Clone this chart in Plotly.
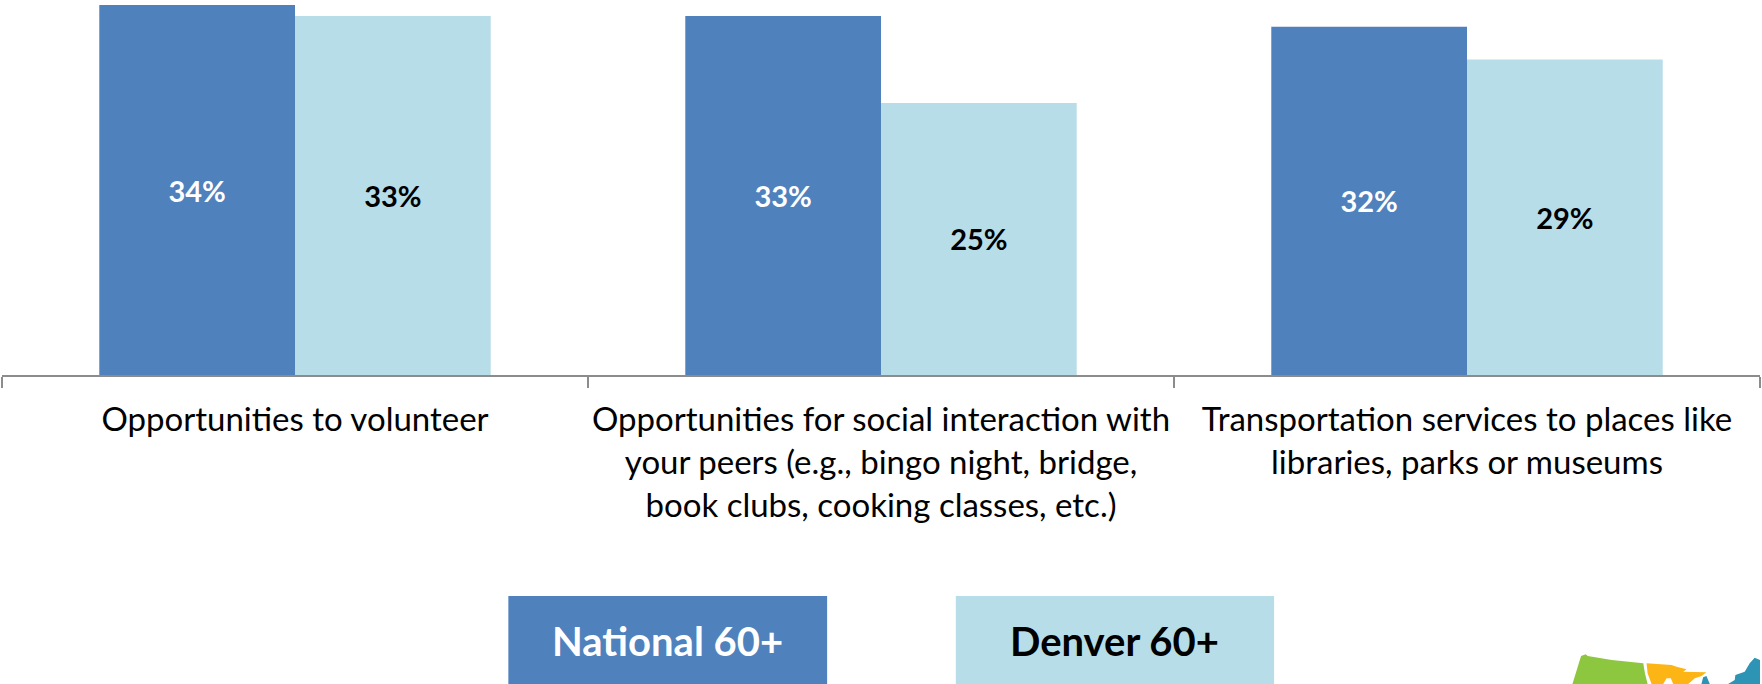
import plotly.graph_objects as go

categories = [
    "Opportunities to volunteer",
    "Opportunities for social interaction with<br>your peers (e.g., bingo night, bridge,<br>book clubs, cooking classes, etc.)",
    "Transportation services to places like<br>libraries, parks or museums",
]
national = [34, 33, 32]
denver = [33, 25, 29]
FONT = "Lato"
W, H, PLOT_H = 1762, 684, 375


def px(x):
    return x / W


def py(y):
    return (PLOT_H - y) / PLOT_H


def poly(points, color):
    path = "M " + " L ".join(f"{px(1500 + a / 3):.5f},{py(600 + b / 3):.5f}" for a, b in points) + " Z"
    return dict(type="path", xref="paper", yref="paper", path=path, fillcolor=color, line_width=0, layer="above")


fig = go.Figure()
fig.add_bar(name="National 60+", x=categories, y=national, marker_color="#4F81BD", marker_line_width=0,
            text=[f"{v}%" for v in national], textposition="inside", insidetextanchor="middle",
            textangle=0, textfont=dict(family=FONT, size=29, color="white", weight=700))
fig.add_bar(name="Denver 60+", x=categories, y=denver, marker_color="#B7DDE8", marker_line_width=0,
            text=[f"{v}%" for v in denver], textposition="inside", insidetextanchor="middle",
            textangle=0, textfont=dict(family=FONT, size=29, color="black", weight=700))

legend = [("National 60+", 507.5, 827, "#4F81BD", "white"), ("Denver 60+", 956, 1275, "#B7DDE8", "black")]
shapes = [dict(type="rect", xref="paper", yref="paper", x0=px(a), x1=px(b), y0=py(596), y1=py(684),
               fillcolor=c, line_width=0) for _, a, b, c, _ in legend]
annotations = [dict(text=f"<b>{t}</b>", xref="paper", yref="paper", x=px((a + b) / 2), y=py(641),
                    showarrow=False, xanchor="center", yanchor="middle",
                    font=dict(family=FONT, size=40, color=tc)) for t, a, b, _, tc in legend]

# decorative corner logo
shapes += [
    poly([(248, 168), (262, 163), (268, 168), (340, 180), (435, 190), (440, 220), (448, 252), (222, 252), (235, 210)], "#8DC63F"),
    poly([(445, 190), (520, 195), (535, 200), (565, 208), (555, 215), (625, 217), (610, 228), (590, 235), (570, 252),
          (525, 252), (518, 235), (505, 235), (495, 252), (460, 252), (448, 220)], "#FDB515"),
    poly([(610, 252), (615, 232), (625, 228), (635, 252)], "#2E94B5"),
    poly([(690, 252), (710, 240), (712, 225), (740, 215), (755, 190), (770, 173), (786, 180), (786, 252)], "#2E94B5"),
]

fig.update_layout(
    width=W, height=H, barmode="group", bargap=0.332, bargroupgap=0,
    margin=dict(l=2, r=2, t=0, b=H - PLOT_H, autoexpand=False),
    paper_bgcolor="white", plot_bgcolor="white", showlegend=False,
    shapes=shapes, annotations=annotations,
    font=dict(family=FONT, color="black"),
)
fig.update_xaxes(type="category", tickson="boundaries", ticks="outside", ticklen=11, tickwidth=1.5,
                 tickcolor="#8C8C8C", showline=True, linecolor="#8C8C8C", linewidth=1.5, showgrid=False,
                 tickangle=0, ticklabelstandoff=15, tickfont=dict(family=FONT, size=33, color="black"))
fig.update_yaxes(range=[0, 34.46], visible=False)
fig.write_html("out.html", config={"displayModeBar": False},
               post_script="document.body.style.margin='0';document.body.style.overflow='hidden';")
